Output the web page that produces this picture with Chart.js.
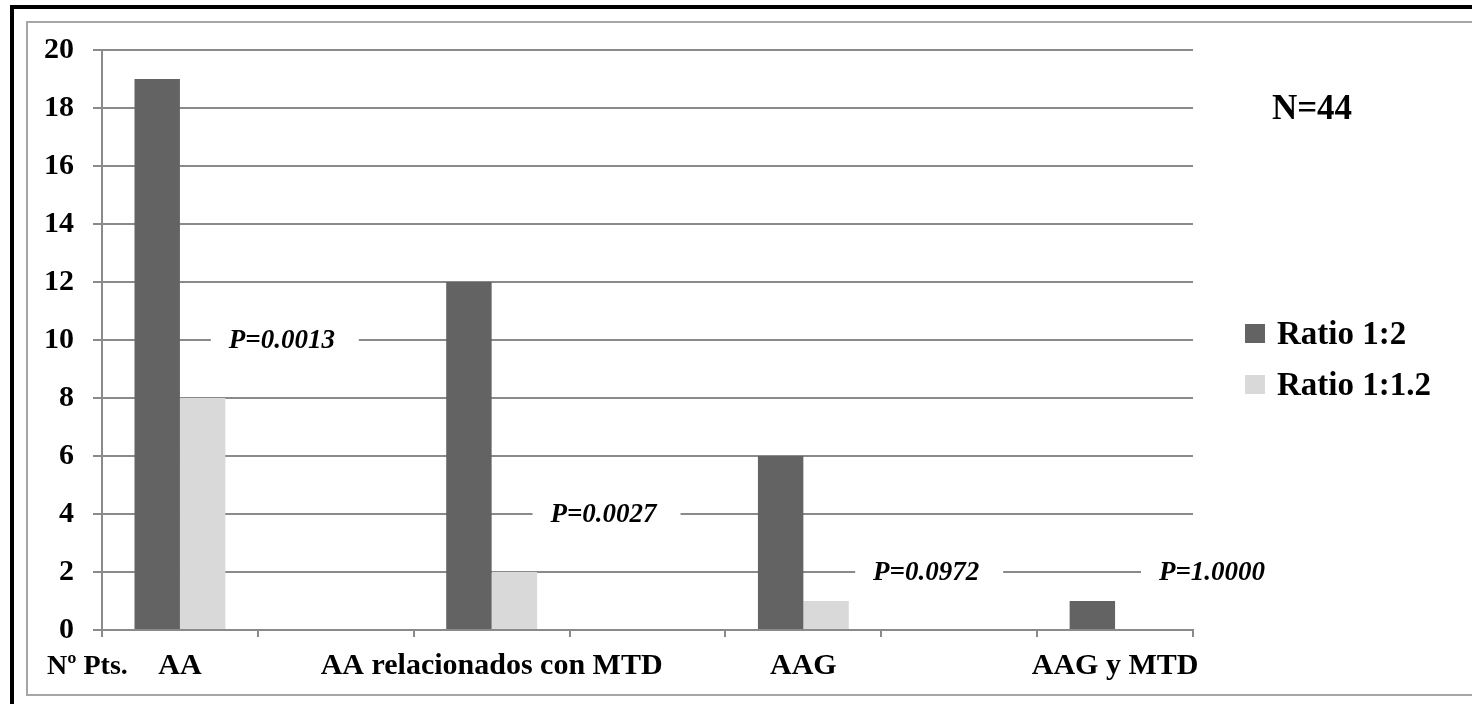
<!DOCTYPE html>
<html>
<head>
<meta charset="utf-8">
<script src="https://cdn.jsdelivr.net/npm/chart.js@4.4.1/dist/chart.umd.min.js"></script>
<style>
    body { margin: 0; width: 1472px; height: 704px; overflow: hidden; background: #fff; position: relative; }
    .frame { position: absolute; left: 10px; top: 5px; width: 1600px; height: 800px; border-left: 4px solid #000; border-top: 4px solid #000; }
    .inner { position: absolute; left: 26px; top: 21px; width: 1600px; height: 675px; box-sizing: border-box; border: 2px solid #a6a6a6; }
    #chart { position: absolute; left: 0; top: 0; }
</style>
</head>
<body>
<div class="frame"></div>
<div class="inner"></div>
<canvas id="chart" width="1472" height="704"></canvas>
<script>
const categories = ['AA', 'AA relacionados con MTD', 'AAG', 'AAG y MTD'];
const seriesNames = ['Ratio 1:2', 'Ratio 1:1.2'];
const ratio12 = [19, 12, 6, 1];
const ratio112 = [8, 2, 1, 0];
const yTicks = [0, 2, 4, 6, 8, 10, 12, 14, 16, 18, 20];
const pLabels = ['P=0.0013', 'P=0.0027', 'P=0.0972', 'P=1.0000'];
const pLevels = [10, 4, 2, 2];
const nLabel = 'N=44';
const axisLabel = 'Nº Pts.';

const serif = "'Liberation Serif', 'Times New Roman', serif";
const gridColor = '#8a8a8a';
const colors = ['#636363', '#d9d9d9'];

// the sheet leaves an empty slot between each category
const labels = [];
const dark = [];
const light = [];
categories.forEach((c, i) => {
    labels.push(c);
    dark.push(ratio12[i]);
    light.push(ratio112[i]);
    if (i < categories.length - 1) {
        labels.push('');
        dark.push(null);
        light.push(null);
    }
});

// where the p-value boxes sit, in category units
const pSlots = [0.654, 2.718, 4.788, 6.622];

const extras = {
    id: 'extras',
    afterDatasetsDraw(chart) {
        const { ctx, chartArea: a, scales: { x, y } } = chart;
        ctx.save();
        ctx.textBaseline = 'middle';

        // p values on white boxes over the grid
        ctx.font = 'italic bold 27px ' + serif;
        ctx.textAlign = 'center';
        pLabels.forEach((t, i) => {
            const cx = x.getPixelForValue(pSlots[i]);
            const cy = y.getPixelForValue(pLevels[i]);
            ctx.fillStyle = '#fff';
            ctx.fillRect(cx - 71, cy - 14, 148, 28);
            ctx.fillStyle = '#000';
            ctx.fillText(t, cx, cy + 1);
        });

        // N
        ctx.font = 'bold 35px ' + serif;
        ctx.fillText(nLabel, a.right + 119, a.top + 60);

        // legend
        ctx.font = 'bold 33px ' + serif;
        ctx.textAlign = 'left';
        seriesNames.forEach((name, i) => {
            const cy = a.top + 284 + i * 51;
            ctx.fillStyle = colors[i];
            ctx.fillRect(a.right + 52, cy - 10, 20, 19);
            ctx.fillStyle = '#000';
            ctx.fillText(name, a.right + 84, cy + 1);
        });

        // axis caption at the left of the category labels
        ctx.font = 'bold 28px ' + serif;
        ctx.fillText(axisLabel, 47, a.bottom + 37);
        ctx.restore();
    }
};

new Chart(document.getElementById('chart'), {
    type: 'bar',
    data: {
        labels: labels,
        datasets: [{
            label: seriesNames[0],
            data: dark,
            backgroundColor: colors[0],
            borderWidth: 0
        }, {
            label: seriesNames[1],
            data: light,
            backgroundColor: colors[1],
            borderWidth: 0
        }]
    },
    options: {
        responsive: false,
        animation: false,
        categoryPercentage: 0.583,
        barPercentage: 1,
        layout: { padding: { left: 0, top: 50, right: 279, bottom: 0 } },
        plugins: {
            legend: { display: false },
            tooltip: { enabled: false }
        },
        scales: {
            x: {
                offset: true,
                afterFit: (s) => { s.height = 74; },
                grid: { offset: true, drawOnChartArea: false, color: gridColor, lineWidth: 2, tickLength: 7 },
                border: { color: gridColor, width: 2 },
                ticks: {
                    autoSkip: false,
                    maxRotation: 0,
                    padding: 11,
                    color: '#000',
                    font: { family: serif, size: 30, weight: 'bold' }
                }
            },
            y: {
                min: 0,
                max: 20,
                afterFit: (s) => { s.width = 102; },
                afterBuildTicks: (s) => { s.ticks = yTicks.map(v => ({ value: v })); },
                grid: { color: gridColor, lineWidth: 2, tickLength: 9 },
                border: { color: gridColor, width: 2 },
                ticks: {
                    padding: 19,
                    color: '#000',
                    font: { family: serif, size: 30, weight: 'bold' }
                }
            }
        }
    },
    plugins: [extras]
});
</script>
</body>
</html>
